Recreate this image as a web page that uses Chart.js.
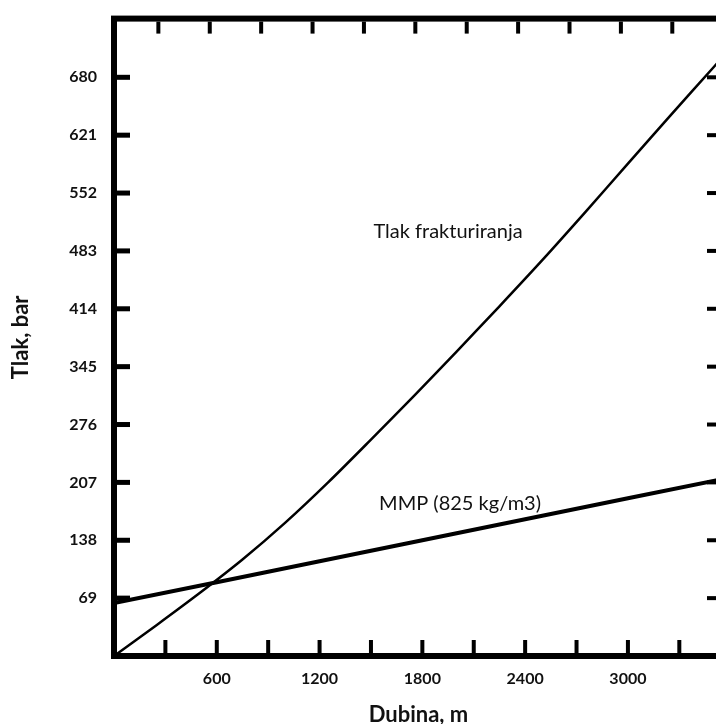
<!DOCTYPE html>
<html>
<head>
<meta charset="utf-8">
<script src="https://cdn.jsdelivr.net/npm/chart.js@4.4.1/dist/chart.umd.min.js"></script>
<style>
  html, body { margin: 0; padding: 0; background: #fff; overflow: hidden; }
  #wrap { width: 716px; height: 724px; overflow: hidden; }
</style>
</head>
<body>
<div id="wrap"><canvas id="chart" width="730" height="724"></canvas></div>
<script>
// fracture pressure curve (depth m -> bar)
const fracDepth = [0, 250, 500, 750, 1000, 1250, 1500, 1750, 2000, 2250, 2500, 2750, 3000, 3250, 3500, 3600];
const fracPressure = [0, 37, 75, 115, 159, 207, 258, 310, 363, 417, 472, 529, 587, 645, 702, 725];

// MMP line (825 kg/m3)
const mmpDepth = [0, 600, 1200, 1800, 2400, 3000, 3600];
const mmpPressure = [63, 88, 113, 138, 163, 188, 213];

const yTickValues = [69, 138, 207, 276, 345, 414, 483, 552, 621, 690];
const yTickLabels = ['69', '138', '207', '276', '345', '414', '483', '552', '621', '680'];
const xTickLabels = [600, 1200, 1800, 2400, 3000];
const xMinorStep = 300;
const topTickShift = 41; // top ticks sit a little left of the bottom ones

const seriesNames = ['Tlak frakturiranja', 'MMP (825 kg/m3)'];

const ink = '#111';
const tickFont = { family: 'Lato', size: 16, weight: 'bold' };
const titleFont = { family: 'Lato', size: 22, weight: 'bold' };

// frame + inward tick marks, drawn from the scales
const framePlugin = {
  id: 'frame',
  afterDatasetsDraw(chart) {
    const ctx = chart.ctx;
    const x = chart.scales.x, y = chart.scales.y;
    // in-chart line labels
    ctx.save();
    ctx.fillStyle = ink;
    ctx.font = '20px Lato';
    ctx.textAlign = 'center';
    ctx.textBaseline = 'middle';
    ctx.fillText(seriesNames[0], x.getPixelForValue(1950), y.getPixelForValue(506));
    ctx.fillText(seriesNames[1], x.getPixelForValue(2020), y.getPixelForValue(182));
    ctx.restore();
  },
  afterDraw(chart) {
    const ctx = chart.ctx;
    const a = chart.chartArea;
    const x = chart.scales.x, y = chart.scales.y;
    ctx.save();
    ctx.strokeStyle = '#000';
    ctx.fillStyle = '#000';
    ctx.lineWidth = 6;
    ctx.lineJoin = 'miter';
    ctx.strokeRect(a.left, a.top, a.right - a.left, a.bottom - a.top);
    yTickValues.forEach(v => {
      const py = y.getPixelForValue(v);
      ctx.fillRect(a.left + 3, py - 2.5, 13, 5);
      ctx.fillRect(a.right - 16, py - 2, 13, 4);
    });
    for (let v = xMinorStep; v < x.max; v += xMinorStep) {
      const pb = x.getPixelForValue(v);
      ctx.fillRect(pb - 2, a.bottom - 16, 4, 13);
      const pt = x.getPixelForValue(v - topTickShift);
      ctx.fillRect(pt - 2, a.top + 3, 4, 12);
    }
    ctx.restore();
  }
};

const ctx = document.getElementById('chart').getContext('2d');
const chart = new Chart(ctx, {
  type: 'line',
  data: {
    datasets: [{
      label: seriesNames[0],
      data: fracDepth.map((d, i) => ({ x: d, y: fracPressure[i] })),
      borderColor: '#000',
      borderWidth: 2.5,
      pointRadius: 0,
      tension: 0.3
    }, {
      label: seriesNames[1],
      data: mmpDepth.map((d, i) => ({ x: d, y: mmpPressure[i] })),
      borderColor: '#000',
      borderWidth: 4,
      pointRadius: 0
    }]
  },
  options: {
    responsive: false,
    animation: false,
    layout: { padding: { left: 0, right: 7, top: 15, bottom: 0 } },
    plugins: { legend: { display: false }, tooltip: { enabled: false } },
    scales: {
      x: {
        type: 'linear',
        position: 'bottom',
        min: 0,
        max: 3555,
        grid: { display: false },
        border: { display: false },
        afterBuildTicks: s => { s.ticks = xTickLabels.map(v => ({ value: v })); },
        afterFit: s => { s.height = 68; },
        ticks: { color: ink, font: tickFont, padding: 5, maxRotation: 0, callback: v => String(v) },
        title: { display: true, text: 'Dubina, m', color: ink, font: titleFont, padding: { top: 0, bottom: -4 } }
      },
      y: {
        type: 'linear',
        min: 0,
        max: 760,
        grid: { display: false },
        border: { display: false },
        afterBuildTicks: s => { s.ticks = yTickValues.map(v => ({ value: v })); },
        afterFit: s => { s.width = 114; },
        ticks: { color: ink, font: tickFont, padding: 9, callback: (v, i) => yTickLabels[i] },
        title: { display: true, text: 'Tlak, bar', color: ink, font: titleFont, padding: { top: 8, bottom: 0 } }
      }
    }
  },
  plugins: [framePlugin]
});
</script>
</body>
</html>
